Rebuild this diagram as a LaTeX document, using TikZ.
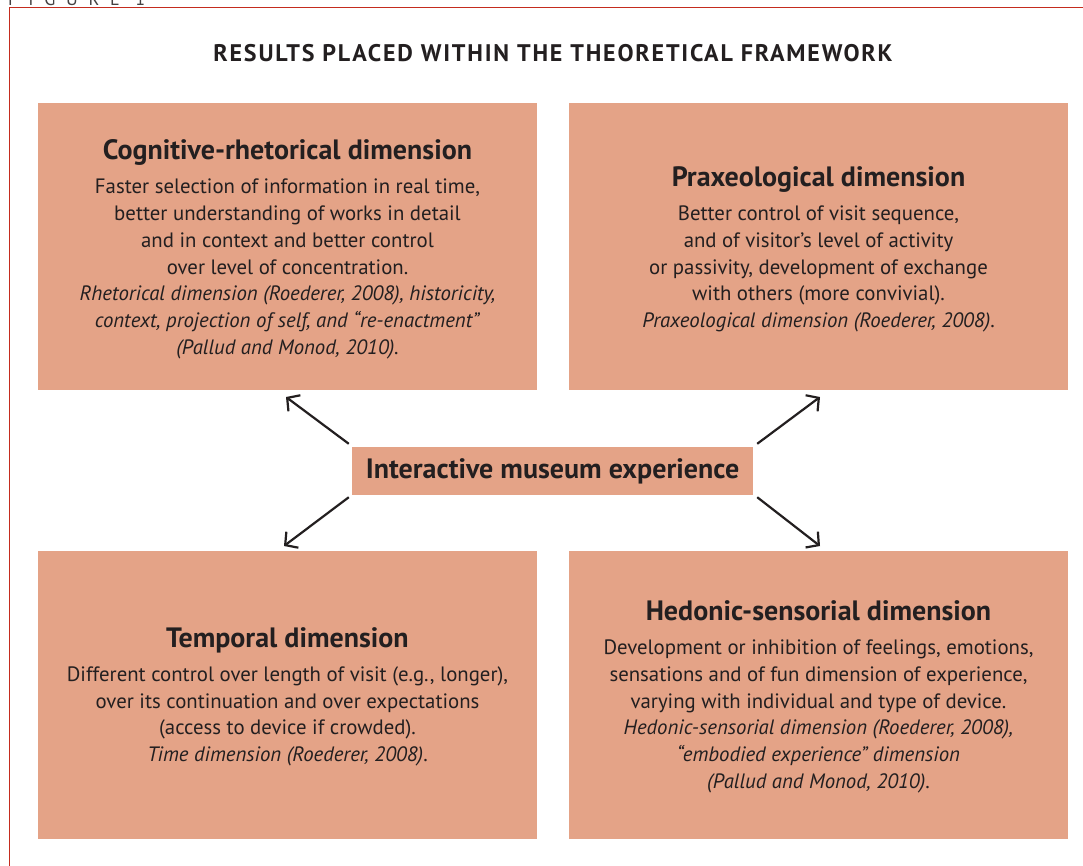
\documentclass[tikz,border=0pt]{standalone}
\usepackage{fontspec}
\setmainfont{PT Sans}
\usetikzlibrary{arrows.meta}
\definecolor{boxfill}{RGB}{228,163,135}
\definecolor{ink}{RGB}{35,31,32}
\definecolor{framered}{RGB}{196,44,30}
\begin{document}
\begin{tikzpicture}[x=1pt,y=-1pt,
  dimbox/.style={fill=boxfill, minimum width=499pt, minimum height=287pt, inner sep=0pt},
  dimtext/.style={inner sep=0pt, align=center, text=ink, font=\fontsize{20.8}{26.8}\selectfont},
  midbox/.style={fill=boxfill, minimum width=401pt, minimum height=48pt, inner sep=0pt,
    text=ink, font=\fontsize{28}{30}\selectfont\bfseries},
  arr/.style={draw=ink, line width=2.2pt, -{Straight Barb[length=9pt,width=20pt,line width=2.2pt]}}
]
\useasboundingbox (0,0) rectangle (1083,865);
\fill[white] (0,0) rectangle (1083,865);
% frame
\draw[framered, line width=1.5pt] (9.5,866) -- (9.5,7.5) -- (1084,7.5);
\node[anchor=base west, inner sep=0pt, text=ink!85,
  font=\fontsize{18}{18}\selectfont\addfontfeature{LetterSpace=60}] (figlabel) at (8,5) {FIGURE 1};
% header
\node[text=ink, font=\fontsize{24}{26}\selectfont\bfseries\addfontfeature{LetterSpace=7.5}] (header) at (553,53)
  {RESULTS PLACED WITHIN THE THEORETICAL FRAMEWORK};
% boxes
\node[dimbox] (cog) at (287.5,246.5) {};
\node[dimbox] (prax) at (818.5,246.5) {};
\node[dimbox, minimum height=288pt] (temp) at (287.5,695) {};
\node[dimbox, minimum height=288pt] (hed) at (818.5,695) {};
\node[dimtext] (cogtext) at ([yshift=-3]cog.center) {{\fontsize{28}{30}\selectfont\bfseries Cognitive-rhetorical dimension}\\[7pt]
Faster selection of information in real time,\\
better understanding of works in detail\\
and in context and better control\\
over level of concentration.\\
\textit{Rhetorical dimension (Roederer, 2008), historicity,}\\
\textit{context, projection of self, and “re-enactment”}\\
\textit{(Pallud and Monod, 2010).}};
\node[dimtext] (praxtext) at ([yshift=-3]prax.center) {{\fontsize{28}{30}\selectfont\bfseries Praxeological dimension}\\[7pt]
Better control of visit sequence,\\
and of visitor’s level of activity\\
or passivity, development of exchange\\
with others (more convivial).\\
\textit{Praxeological dimension (Roederer, 2008)}.};
\node[dimtext] (temptext) at ([yshift=-2]temp.center) {{\fontsize{28}{30}\selectfont\bfseries Temporal dimension}\\[7pt]
Different control over length of visit (e.g., longer),\\
over its continuation and over expectations\\
(access to device if crowded).\\
\textit{Time dimension (Roederer, 2008)}.};
\node[dimtext] (hedtext) at ([yshift=-2]hed.center) {{\fontsize{28}{30}\selectfont\bfseries Hedonic-sensorial dimension}\\[7pt]
Development or inhibition of feelings, emotions,\\
sensations and of fun dimension of experience,\\
varying with individual and type of device.\\
\textit{Hedonic-sensorial dimension (Roederer, 2008),}\\
\textit{“embodied experience” dimension}\\
\textit{(Pallud and Monod, 2010)}.};
% middle
\node[midbox] (mid) at (552.5,471) {Interactive museum experience};
% arrow tips
\coordinate (tipTL) at (286,397);
\coordinate (tipTR) at (820,397);
\coordinate (tipBL) at (284,546);
\coordinate (tipBR) at (820,546);
\draw[arr] ([shift={(-3,-3)}]mid.north west) -- (tipTL);
\draw[arr] ([shift={(4,-3)}]mid.north east) -- (tipTR);
\draw[arr] ([shift={(-3,2)}]mid.south west) -- (tipBL);
\draw[arr] ([shift={(4,2)}]mid.south east) -- (tipBR);
\end{tikzpicture}
\end{document}
